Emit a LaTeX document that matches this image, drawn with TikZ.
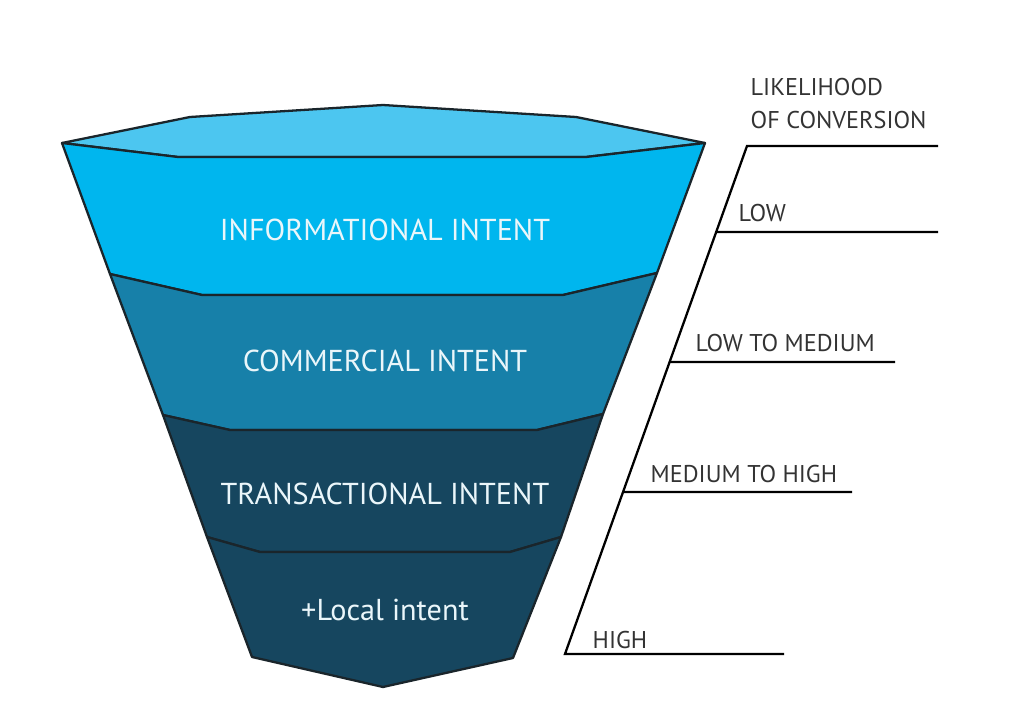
\documentclass[tikz,border=0pt]{standalone}
\usepackage{fontspec}
\usepackage{tikz}
\usetikzlibrary{positioning,calc}
\newfontfamily\funnelfont{PT Sans}
\definecolor{capcyan}{HTML}{4CC6F0}
\definecolor{infocyan}{HTML}{00B6EE}
\definecolor{commblue}{HTML}{1780A9}
\definecolor{darkteal}{HTML}{16465F}
\definecolor{edgegray}{HTML}{1A252B}
\definecolor{labelgray}{HTML}{333333}
\definecolor{textwhite}{HTML}{EAF6FA}

\begin{document}
\begin{tikzpicture}[
		band/.style={draw=edgegray, line width=0.65pt, line join=round},
		stagetext/.style={text=textwhite, font=\funnelfont\fontsize{8.6}{10}\selectfont, inner sep=0pt},
		levellabel/.style={text=labelgray, font=\funnelfont\fontsize{6.9}{8}\selectfont, anchor=base west, inner sep=0pt},
		rung/.style={black, line width=0.65pt}
	]
			\useasboundingbox (0,0) rectangle (10.24,7.24);
			
			% funnel, top to bottom
			\filldraw[band, fill=capcyan] (0.62,5.81) -- (1.90,6.07) -- (3.83,6.19) -- (5.76,6.07) -- (7.05,5.81) -- (5.86,5.67) -- (1.78,5.67) -- cycle;
			\filldraw[band, fill=infocyan] (0.62,5.81) -- (1.78,5.67) -- (5.86,5.67) -- (7.05,5.81) -- (6.57,4.51) -- (5.63,4.29) -- (2.02,4.29) -- (1.10,4.50) -- cycle;
			\filldraw[band, fill=commblue] (1.10,4.50) -- (2.02,4.29) -- (5.63,4.29) -- (6.57,4.51) -- (6.03,3.10) -- (5.37,2.94) -- (2.30,2.94) -- (1.63,3.09) -- cycle;
			\filldraw[band, fill=darkteal] (1.63,3.09) -- (2.30,2.94) -- (5.37,2.94) -- (6.03,3.10) -- (5.61,1.87) -- (5.10,1.72) -- (2.60,1.72) -- (2.07,1.87) -- cycle;
			\filldraw[band, fill=darkteal] (2.07,1.87) -- (2.60,1.72) -- (5.10,1.72) -- (5.61,1.87) -- (5.13,0.66) -- (3.83,0.37) -- (2.52,0.67) -- cycle;
			
			\node[stagetext] (info) at (3.85,4.94) {INFORMATIONAL INTENT};
			\node[stagetext] (comm) at (3.85,3.63) {COMMERCIAL INTENT};
			\node[stagetext] (trans) at (3.85,2.30) {TRANSACTIONAL INTENT};
			\node[stagetext] (local) at (3.85,1.14) {+Local intent};
			
			% likelihood scale
			\coordinate (top) at (7.47,5.78);
			\coordinate (bot) at (5.65,0.70);
			\coordinate (low) at ($(bot)!0.8307!(top)$);
			\coordinate (lowmed) at ($(bot)!0.5748!(top)$);
			\coordinate (medhigh) at ($(bot)!0.3189!(top)$);
			\draw[rung] (9.38,5.78) -- (top) -- (bot) -- (7.84,0.70);
			\draw[rung] (low) -- (9.38,4.92);
			\draw[rung] (lowmed) -- (8.95,3.62);
			\draw[rung] (medhigh) -- (8.52,2.32);
			
			\node[levellabel] (title1) at (7.50,6.28) {LIKELIHOOD};
			\node[levellabel] (title2) at (7.50,5.95) {OF CONVERSION};
			\node[levellabel] (lowtext) at (7.38,5.02) {LOW};
			\node[levellabel] (lowmedtext) at (6.95,3.72) {LOW TO MEDIUM};
			\node[levellabel] (medhightext) at (6.50,2.42) {MEDIUM TO HIGH};
			\node[levellabel] (hightext) at (5.92,0.76) {HIGH};
\end{tikzpicture}
\end{document}
